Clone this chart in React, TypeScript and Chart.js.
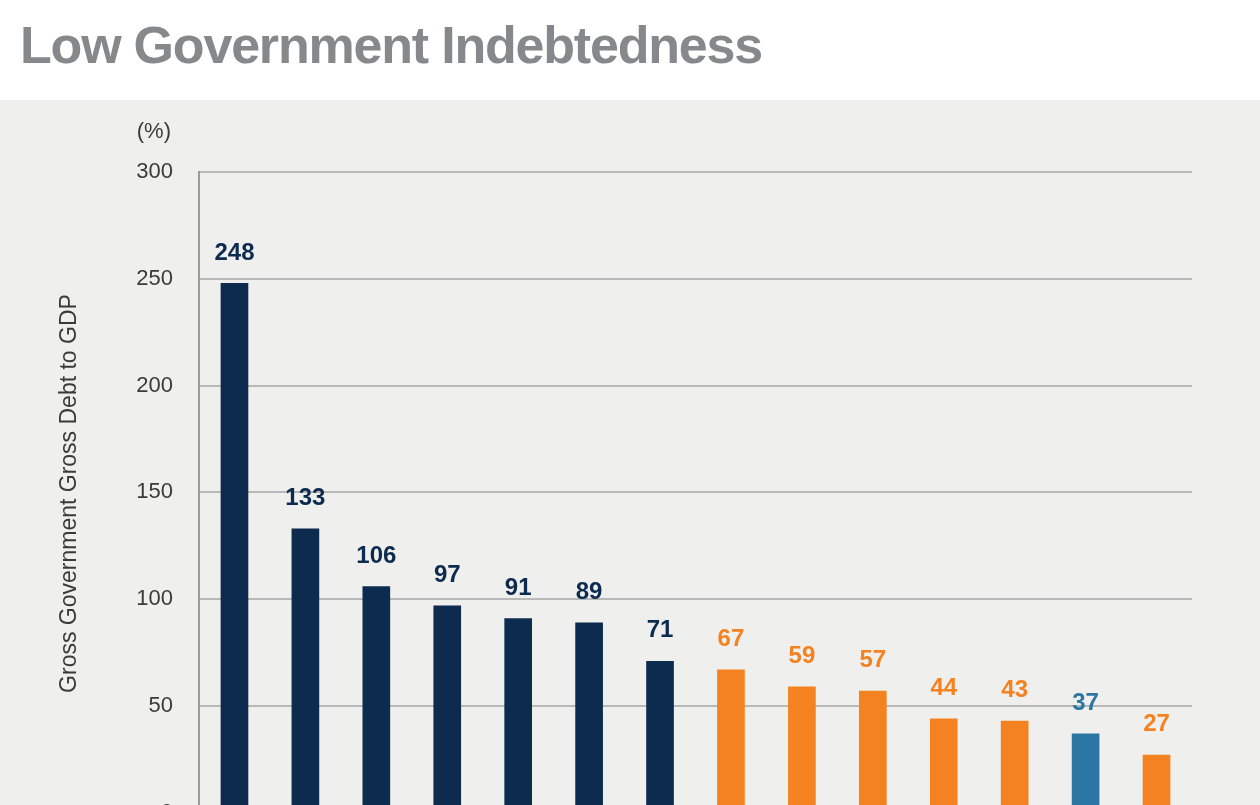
import React, { useEffect, useRef } from "react";
import { Chart, registerables } from "chart.js";

Chart.register(...registerables);

const categories = ["Japan", "Italy", "US", "France", "UK", "Canada", "Germany", "Brazil", "India", "Mexico", "China", "South Africa", "Australia", "Indonesia"];
const debtValues = [248, 133, 106, 97, 91, 89, 71, 67, 59, 57, 44, 43, 37, 27];
const groups = ["dm", "dm", "dm", "dm", "dm", "dm", "dm", "em", "em", "em", "em", "em", "home", "em"];
const yTicks = [0, 50, 100, 150, 200, 250, 300];

const groupColors: Record<string, string> = { dm: "#0d2b4e", em: "#f58220", home: "#2b76a3" };
const FONT = "'Liberation Sans', Arial, Helvetica, sans-serif";

export default function App() {
  const ref = useRef<HTMLCanvasElement | null>(null);
  useEffect(() => {
    document.body.style.margin = "0";
    const colors = groups.map((g) => groupColors[g]);
    const labelPlugin = {
      id: "extras",
      afterDatasetsDraw(chart: any) {
        const ctx = chart.ctx;
        const meta = chart.getDatasetMeta(0);
        ctx.save();
        ctx.font = `bold 24px ${FONT}`;
        ctx.textAlign = "center";
        ctx.textBaseline = "alphabetic";
        meta.data.forEach((bar: any, i: number) => {
          ctx.fillStyle = colors[i];
          ctx.fillText(String(debtValues[i]), bar.x, bar.y - 23.5);
        });
        ctx.restore();
      },
      afterDraw(chart: any) {
        const ctx = chart.ctx;
        ctx.save();
        ctx.fillStyle = "#3a3a3a";
        ctx.font = `22px ${FONT}`;
        ctx.textAlign = "right";
        ctx.textBaseline = "middle";
        ctx.fillText("(%)", 171, 32);
        ctx.font = `23px ${FONT}`;
        ctx.translate(70, 393.5);
        ctx.rotate(-Math.PI / 2);
        ctx.textAlign = "center";
        ctx.fillText("Gross Government Gross Debt to GDP", 0, 0);
        ctx.restore();
      },
    };
    const chart = new Chart(ref.current!, {
      type: "bar",
      data: {
        labels: categories,
        datasets: [
          {
            data: debtValues,
            backgroundColor: colors,
            borderWidth: 0,
            categoryPercentage: 1,
            barPercentage: 0.39,
          },
        ],
      },
      options: {
        animation: false,
        responsive: false,
        maintainAspectRatio: false,
        layout: { padding: { top: 72, right: 68, bottom: 27.5, left: 0 } },
        plugins: { legend: { display: false }, tooltip: { enabled: false } },
        scales: {
          x: {
            grid: { display: false },
            border: { display: false },
            ticks: { display: false },
            afterFit: (s: any) => { s.height = 60; },
          },
          y: {
            min: 0,
            max: 300,
            afterBuildTicks: (s: any) => { s.ticks = yTicks.map((v) => ({ value: v })); },
            afterFit: (s: any) => { s.width = 199; },
            grid: { color: "#b8b8b8", lineWidth: 2, drawTicks: false },
            border: { display: true, color: "#9a9a9a", width: 2 },
            ticks: { color: "#3a3a3a", font: { family: FONT, size: 22 }, padding: 26 },
          },
        },
      },
      plugins: [labelPlugin],
    });
    return () => chart.destroy();
  }, []);

  return (
    <div style={{ width: 1260, overflow: "hidden" }}>
      <div style={{ height: 100, background: "#ffffff", position: "relative" }}>
        <div
          style={{
            position: "absolute",
            left: 20,
            top: 15,
            fontFamily: FONT,
            fontWeight: "bold",
            fontSize: 52,
            lineHeight: "normal",
            color: "#86898c",
            letterSpacing: -1.2,
            whiteSpace: "nowrap",
          }}
        >
          Low Government Indebtedness
        </div>
      </div>
      <div style={{ background: "#efefed", height: 800 }}>
        <canvas ref={ref} width={1260} height={800} style={{ display: "block" }} />
      </div>
    </div>
  );
}
